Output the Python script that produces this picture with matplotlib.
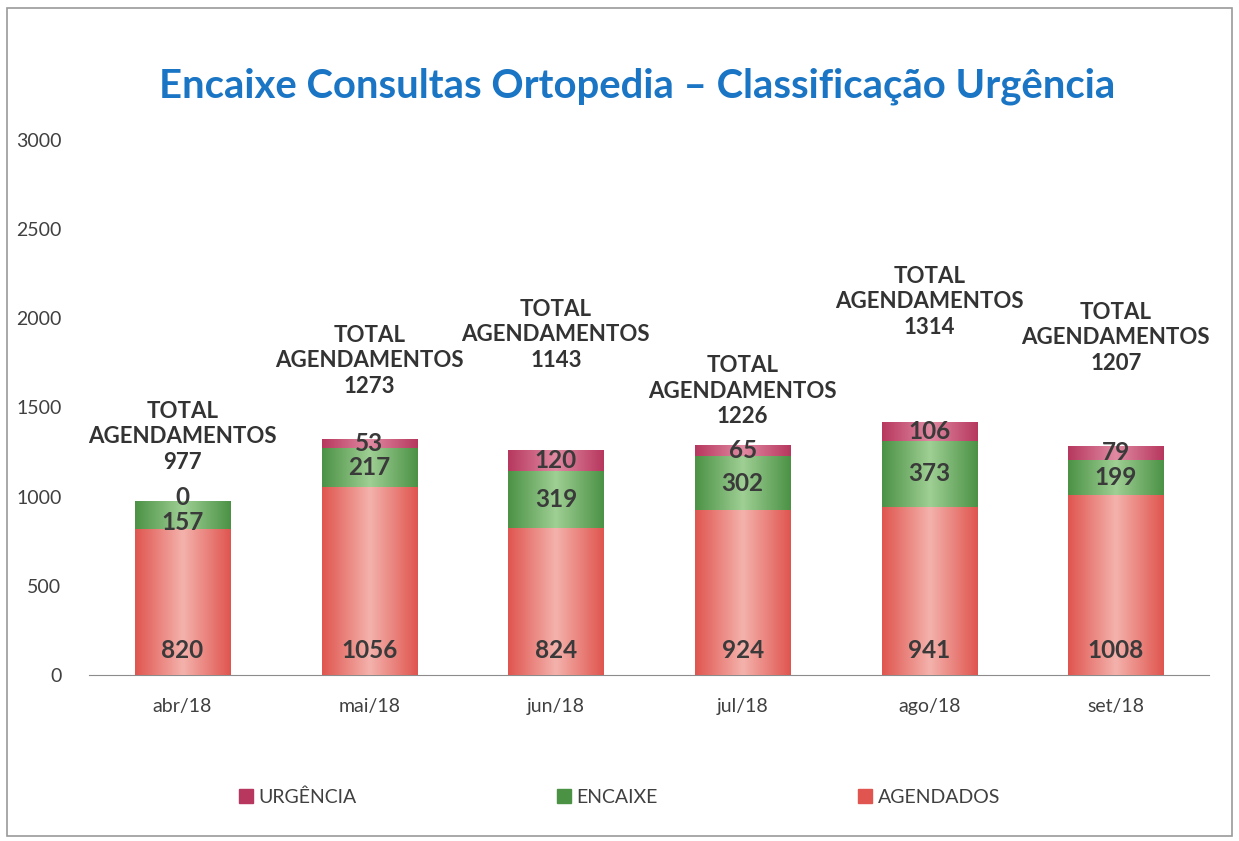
import numpy as np
import matplotlib
matplotlib.use("Agg")
import matplotlib.pyplot as plt
from matplotlib.patches import Patch, Rectangle
from matplotlib.colors import LinearSegmentedColormap

# data
months = ["abr/18", "mai/18", "jun/18", "jul/18", "ago/18", "set/18"]
agendados = [820, 1056, 824, 924, 941, 1008]
encaixe = [157, 217, 319, 302, 373, 199]
urgencia = [0, 53, 120, 65, 106, 79]
totais = [977, 1273, 1143, 1226, 1314, 1207]
# where the "TOTAL AGENDAMENTOS" boxes sit (data units, middle line)
total_label_y = [1335, 1761, 1907, 1592, 2091, 1889]

plt.rcParams['font.family'] = ['Lato', 'DejaVu Sans']

c_agend = ("#e0554f", "#f4b2ac")
c_encx = ("#4b9245", "#9fcf94")
c_urg = ("#b7375f", "#e08aa2")

fig = plt.figure(figsize=(12.39, 8.41), dpi=100)
fig.patch.set_facecolor("white")
fig.add_artist(Rectangle((0.006, 0.006), 0.988, 0.985, transform=fig.transFigure,
                         fill=False, edgecolor="#9a9a9a", linewidth=1.2))

ax = fig.add_axes([0.072, 0.197, 0.904, 0.637])
x = np.arange(len(months))
w = 0.51

bottoms_e = np.array(agendados)
bottoms_u = bottoms_e + np.array(encaixe)

b1 = ax.bar(x, agendados, w, color=c_agend[0], zorder=2)
b2 = ax.bar(x, encaixe, w, bottom=bottoms_e, color=c_encx[0], zorder=2)
b3 = ax.bar(x, urgencia, w, bottom=bottoms_u, color=c_urg[0], zorder=2)


def shade(bars, cols):
    # horizontal gradient, lighter in the middle of each bar
    cmap = LinearSegmentedColormap.from_list("g", [cols[0], cols[1], cols[0]])
    grad = np.linspace(0, 1, 256).reshape(1, -1)
    for b in bars:
        if b.get_height() <= 0:
            continue
        x0, y0 = b.get_x(), b.get_y()
        im = ax.imshow(grad, cmap=cmap, aspect="auto", zorder=3,
                       extent=[x0, x0 + b.get_width(), y0, y0 + b.get_height()])
        im.set_clip_path(b)


shade(b1, c_agend)
shade(b2, c_encx)
shade(b3, c_urg)

lab = dict(ha="center", va="center", fontsize=17.5, fontweight="bold", color="#3a3a3a", zorder=5)
for i in range(len(months)):
    ax.text(x[i], 140, str(agendados[i]), **lab)
    ax.text(x[i], agendados[i] + encaixe[i] / 2 - (42 if urgencia[i] == 0 else 0),
            str(encaixe[i]), **lab)
    ax.text(x[i], bottoms_u[i] + max(urgencia[i], 30) / 2 + (4 if urgencia[i] == 0 else 0),
            str(urgencia[i]), **lab)
    ax.text(x[i], total_label_y[i], "TOTAL\nAGENDAMENTOS\n%d" % totais[i],
            ha="center", va="center", fontsize=16, fontweight="bold",
            color="#333333", linespacing=1.25, zorder=5)

ax.set_xlim(-0.5, len(months) - 0.5)
ax.set_ylim(0, 3000)
ax.set_yticks(range(0, 3001, 500))
ax.set_xticks(x)
ax.set_xticklabels(months)
ax.tick_params(axis="both", length=0, labelsize=14, colors="#404040")
ax.tick_params(axis="y", pad=20)
ax.tick_params(axis="x", pad=16)
for s in ["top", "right", "left"]:
    ax.spines[s].set_visible(False)
ax.spines["bottom"].set_color("#8c8c8c")

fig.text(0.514, 0.897, "Encaixe Consultas Ortopedia \u2013 Classifica\u00e7\u00e3o Urg\u00eancia",
         ha="center", va="center", fontsize=28.8, fontweight="bold", color="#1a75c4")

handles = [Patch(color=c_urg[0]), Patch(color=c_encx[0]), Patch(color=c_agend[0])]
fig.legend(handles, ["URG\u00caNCIA", "ENCAIXE", "AGENDADOS"], loc="center",
           bbox_to_anchor=(0.5, 0.052), ncol=3, frameon=False, fontsize=14,
           handlelength=0.7, handleheight=0.7, handletextpad=0.3,
           columnspacing=10.3, labelcolor="#404040")

fig.savefig("out.png", dpi=100, facecolor="white")
